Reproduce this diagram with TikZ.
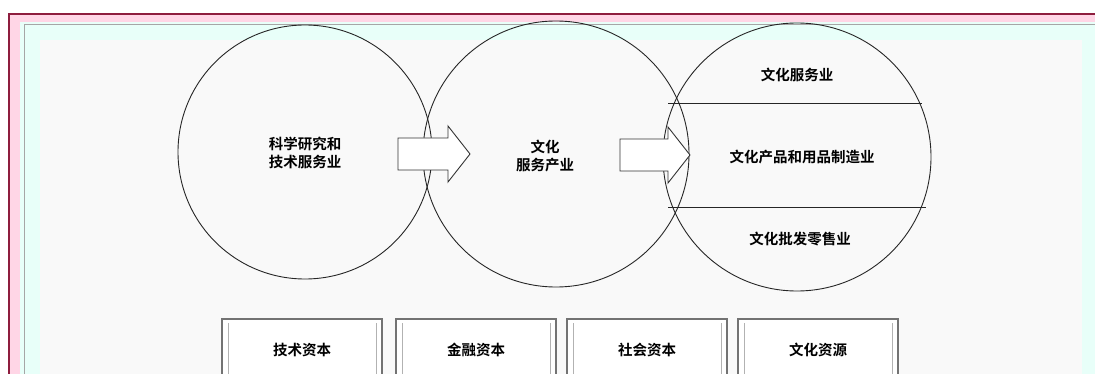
\documentclass[tikz,border=0pt]{standalone}
\usepackage{fontspec}
\newfontfamily\cjk{Noto Sans CJK SC}[BoldFont={Noto Sans CJK SC Bold}]
\definecolor{frame}{HTML}{8E1D3E}
\definecolor{pinkl}{HTML}{FFD6E6}
\definecolor{cyanl}{HTML}{E8FFF9}
\definecolor{bgc}{HTML}{F9F9F9}
\tikzset{
  lbl/.style={font=\cjk\bfseries\fontsize{14.5}{18}\selectfont, align=center, inner sep=0pt},
  ring/.style={draw=black!85, line width=0.9pt, circle, inner sep=0pt},
  blockarrow/.style={draw=black!80, fill=white, line width=0.9pt, line join=miter},
  capbox/.style={draw=black!55, line width=2pt, fill=white, minimum width=160pt, minimum height=70pt, anchor=north},
  capin/.style={draw=black!30, line width=0.6pt}
}
\begin{document}
\begin{tikzpicture}[x=1pt,y=-1pt]
\useasboundingbox (0,0) rectangle (1095,374);
\fill[white] (0,0) rectangle (1095,374);
\fill[pinkl] (8,13) rectangle (1095,374);
\fill[cyanl] (20,22) rectangle (1095,374);
\fill[bgc] (40,40) rectangle (1082,374);
\draw[frame, line width=2.5pt] (9,374) -- (9,14) -- (1095,14);
\draw[black!35, line width=0.6pt] (24,374) -- (24,24) -- (1095,24);
% circles
\node[ring, minimum size=254pt] (c1) at (305,152) {};
\node[ring, minimum size=266pt] (c2) at (556,154) {};
\node[ring, minimum size=268pt] (c3) at (797,157) {};
% chords in right circle
\draw[black!85, line width=0.9pt] (668,103) -- (922,103);
\draw[black!85, line width=0.9pt] (668,207) -- (926,207);
% block arrows
\coordinate (a1) at (398,138);
\draw[blockarrow] (a1) -- ++(50,0) -- ++(0,-12) -- ++(22,28) -- ++(-22,28) -- ++(0,-12) -- ++(-50,0) -- cycle;
\coordinate (a2) at (620,139);
\draw[blockarrow] (a2) -- ++(48,0) -- ++(0,-12) -- ++(22,28) -- ++(-22,28) -- ++(0,-12) -- ++(-48,0) -- cycle;
% labels
\node[lbl] (t1) at (305,153) {科学研究和\\技术服务业};
\node[lbl] (t2) at (545,156) {文化\\服务产业};
\node[lbl] (t3) at (797,75) {文化服务业};
\node[lbl] (t4) at (802,157) {文化产品和用品制造业};
\node[lbl] (t5) at (800,239) {文化批发零售业};
% bottom boxes
\foreach \n/\x/\t in {b1/302/技术资本, b2/476/金融资本, b3/647/社会资本, b4/818/文化资源}{
  \node[capbox] (\n) at (\x,318) {};
  \draw[capin] ([shift={(7pt,-5pt)}]\n.north west) -- ([shift={(7pt,-80pt)}]\n.north west);
  \draw[capin] ([shift={(-7pt,-5pt)}]\n.north east) -- ([shift={(-7pt,-80pt)}]\n.north east);
  \node[lbl] at (\x,350) {\t};
}
\end{tikzpicture}
\end{document}
